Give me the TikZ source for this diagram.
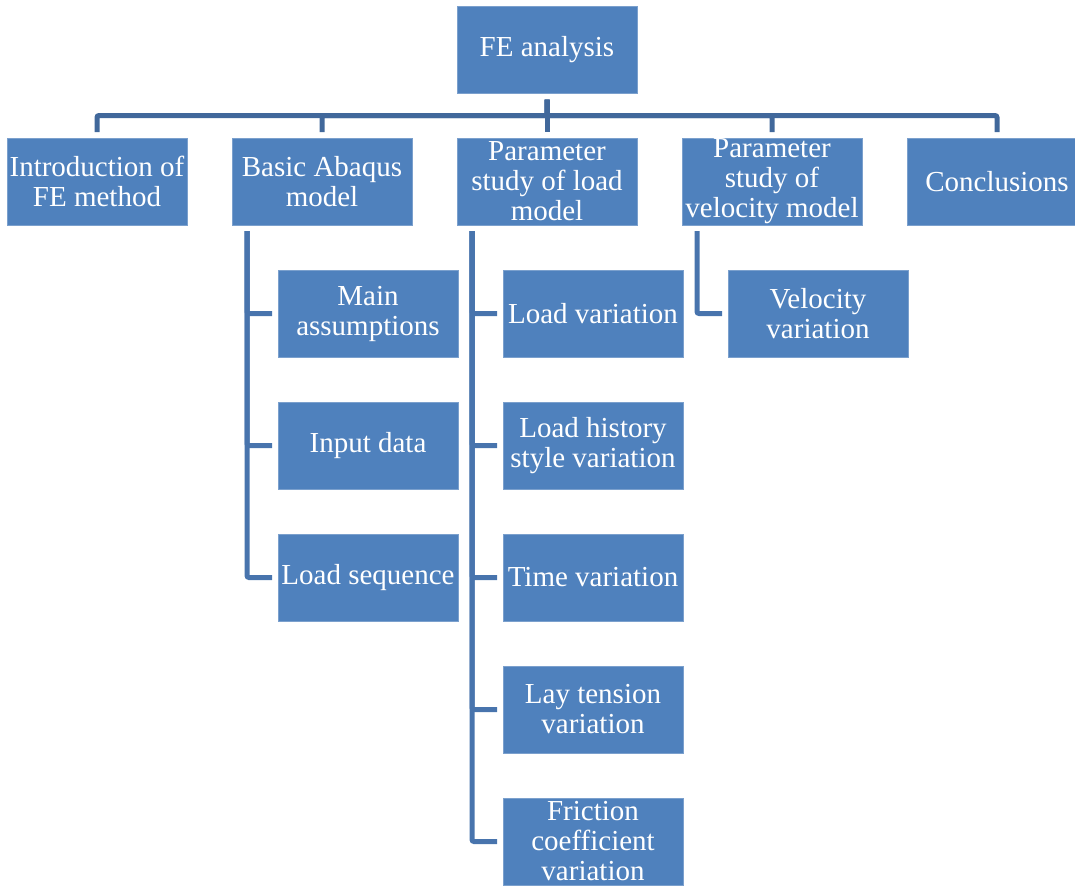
\documentclass[tikz,border=0pt]{standalone}
\usepackage{fontspec}
\setmainfont{Liberation Serif}
\usetikzlibrary{positioning}
\definecolor{boxblue}{HTML}{4F81BD}
\definecolor{topline}{HTML}{41689B}
\definecolor{subline}{HTML}{4874AD}

\begin{document}
\begin{tikzpicture}[x=1pt,y=1pt,node distance=45pt,
box/.style={rectangle,fill=boxblue,draw=boxblue!75!white,line width=0.6pt,text=white,minimum width=180pt,minimum height=87pt,inner sep=0pt,outer sep=0pt,align=center,font=\fontsize{29}{30}\selectfont},
trunk/.style={draw=topline,line width=5pt,rounded corners=2pt},
branch/.style={draw=subline,line width=5pt,rounded corners=2pt}]
\useasboundingbox (0,0) rectangle (1075,-886);
\node[box] (fe) at (547,-50) {FE analysis};
\node[box] (intro) at (97,-181.5) {Introduction of\\FE method};
\node[box] (basic) [right=of intro] {Basic Abaqus\\model};
\node[box] (load) [right=of basic] {Parameter\\study of load\\model};
\node[box] (velo) [right=of load] {Parameter\\study of\\velocity model};
\node[box] (concl) [right=of velo] {Conclusions};

\node[box] (main) [below=of basic,xshift=46pt] {Main\\assumptions};
\node[box] (input) [below=of main] {Input data};
\node[box] (seq) [below=of input] {Load sequence};

\node[box] (loadvar) [below=of load,xshift=46pt] {Load variation};
\node[box] (hist) [below=of loadvar] {Load history\\style variation};
\node[box] (time) [below=of hist] {Time variation};
\node[box] (lay) [below=of time] {Lay tension\\variation};
\node[box] (fric) [below=of lay] {Friction\\coefficient\\variation};

\node[box] (velvar) [below=of velo,xshift=46pt] {Velocity\\variation};

\foreach \n in {intro,basic,load,velo,concl}
  \draw[trunk] ([yshift=-6pt]fe.south) -- ++(0,-16) -| ([yshift=6pt]\n.north);
\foreach \n in {main,input,seq}
  \draw[branch] ([xshift=15pt,yshift=-6pt]basic.south west) |- ([xshift=-6pt]\n.west);
\foreach \n in {loadvar,hist,time,lay,fric}
  \draw[branch] ([xshift=15pt,yshift=-6pt]load.south west) |- ([xshift=-6pt]\n.west);
\draw[branch] ([xshift=15pt,yshift=-6pt]velo.south west) |- ([xshift=-6pt]velvar.west);
\end{tikzpicture}
\end{document}
